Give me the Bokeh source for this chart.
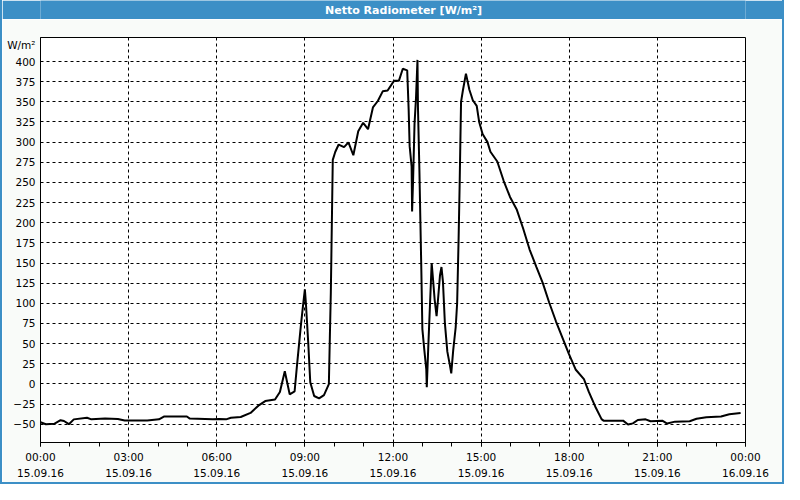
from bokeh.plotting import figure
from bokeh.layouts import column
from bokeh.models import FixedTicker
from bokeh.core.properties import value
from bokeh.embed import file_html
from bokeh.resources import INLINE

title_text = "Netto Radiometer [W/m²]"
unit_label = "W/m²"

# time of day in minutes since 15.09.16 00:00
minutes = [0, 11, 28, 41, 48, 58, 68, 95, 104, 132, 158, 172, 218, 242, 252, 299, 305,
           352, 365, 379, 389, 409, 429, 445, 459, 479, 489, 499, 509, 519, 524, 532,
           537, 540, 542, 547, 551, 559, 569, 579, 589, 591, 593, 597, 602, 609, 620,
           629, 639, 649, 659, 669, 679, 689, 699, 709, 722, 732, 740, 749, 752, 754,
           758, 759, 761, 764, 767, 770, 771, 774, 776, 778, 780, 784, 788, 789, 792,
           796, 799, 802, 805, 809, 812, 816, 819, 822, 826, 831, 836, 839, 843, 848,
           851, 854, 856, 859, 863, 869, 876, 883, 891, 896, 903, 913, 919, 933, 946,
           959, 973, 986, 999, 1013, 1026, 1039, 1053, 1066, 1079, 1093, 1110, 1120,
           1133, 1146, 1150, 1190, 1200, 1210, 1220, 1236, 1246, 1270, 1280, 1296,
           1326, 1340, 1360, 1390, 1407, 1430]
# net radiation, W/m²
values = [-47.5, -50, -49.5, -45, -46, -50, -44, -42, -44, -43, -43.5, -45.5, -45.5, -44,
          -40.5, -40.5, -43, -44, -43.5, -44, -42, -41, -36, -27, -21.3, -19.3, -10, 15.7,
          -13, -9.4, 23.7, 73.5, 101.4, 117.3, 101, 49.6, 2, -15, -18, -14, -0.2, 57.6,
          113, 278, 287.7, 297, 293.7, 299.6, 283.7, 313.5, 324, 316, 343, 351, 363, 364,
          376, 376, 391, 389, 340, 295, 270, 214, 252, 323, 355, 402, 343, 263, 200, 137,
          68, 42, 18, -4, 45, 105, 150, 128, 105, 84, 105, 135, 145, 127, 75, 40, 24, 13,
          42, 70, 100, 180, 243, 350, 365, 385, 365, 352, 345, 325, 310, 300, 288, 276,
          252, 232, 216, 192.5, 166.7, 145, 125, 101, 77.4, 57.5, 37.7, 17.9, 6, -10, -28,
          -43.7, -45.6, -45.6, -50.4, -49, -44.8, -44, -46.4, -45.6, -49.2, -46.8, -46.4,
          -43.3, -41.3, -40.5, -37.7, -36.1]

x_ticks = [0, 180, 360, 540, 720, 900, 1080, 1260, 1440]
x_minor = list(range(0, 1441, 60))
x_tick_times = ["00:00", "03:00", "06:00", "09:00", "12:00", "15:00", "18:00", "21:00", "00:00"]
x_tick_dates = ["15.09.16"] * 8 + ["16.09.16"]
y_ticks = list(range(-50, 401, 25))
unit_tick = 421

BLUE = "#3c8fc6"
BG = "#f9fbf9"
FONT = "DejaVu Sans"

head = figure(width=780, height=19, x_range=(0, 1), y_range=(0, 1),
              toolbar_location=None, output_backend="svg", min_border=0)
head.axis.visible = False
head.grid.visible = False
head.outline_line_color = None
head.background_fill_color = BLUE
head.border_fill_color = BLUE
head.text(x=[0.515], y=[0.47], text=[title_text], text_align="center",
          text_baseline="middle", text_color="white", text_font=value(FONT),
          text_font_style="bold", text_font_size="11px")

p = figure(width=780, height=463, x_range=(0, 1440), y_range=(-72.7, 429.8),
           toolbar_location=None, output_backend="svg",
           min_border_left=38, min_border_right=37, min_border_top=18, min_border_bottom=37)
p.background_fill_color = "white"
p.border_fill_color = BG
p.outline_line_color = "black"
p.outline_line_width = 1

p.line(minutes, values, line_color="black", line_width=2)

xa = p.xaxis[0]
xa.ticker = FixedTicker(ticks=x_ticks, minor_ticks=x_minor)
xa.major_label_overrides = {t: f"{a}\n{b}" for t, a, b in zip(x_ticks, x_tick_times, x_tick_dates)}
xa.major_tick_in = 0
xa.major_tick_out = 4
xa.minor_tick_in = 0
xa.minor_tick_out = 4
xa.major_label_standoff = 4
xa.major_label_text_line_height = 1.4

ya = p.yaxis[0]
ya.ticker = FixedTicker(ticks=y_ticks + [unit_tick], minor_ticks=[])
ya.major_label_overrides = {unit_tick: unit_label}
ya.major_tick_in = 0
ya.major_tick_out = 0
ya.major_label_standoff = 5

for ax in (xa, ya):
    ax.axis_line_color = "black"
    ax.major_tick_line_color = "black"
    ax.minor_tick_line_color = "black"
    ax.major_label_text_font = FONT
    ax.major_label_text_font_size = "10.5px"
    ax.major_label_text_color = "black"

p.xgrid.ticker = FixedTicker(ticks=x_ticks)
p.ygrid.ticker = FixedTicker(ticks=y_ticks)
p.grid.grid_line_color = "black"
p.grid.grid_line_dash = "3 3"
p.grid.grid_line_width = 1

layout = column(head, p, spacing=0,
                styles={"border": f"2px solid {BLUE}", "border-top": "0px"})
open("out.html", "w").write(file_html(layout, INLINE))
